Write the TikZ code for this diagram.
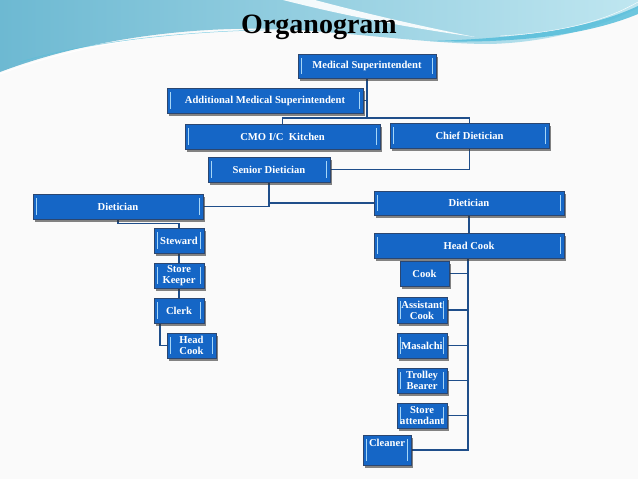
\documentclass[tikz,border=0pt]{standalone}
\usepackage{fontspec}
\setmainfont{Liberation Serif}
\usetikzlibrary{shadows}
\definecolor{boxfill}{HTML}{1566C6}
\definecolor{boxedge}{HTML}{2B4670}
\definecolor{barcol}{HTML}{A6D6F7}
\definecolor{linecol}{HTML}{1F4E8A}
\definecolor{wave1}{HTML}{6DB9D2}
\definecolor{wave2}{HTML}{BFE6F0}
\definecolor{wave3}{HTML}{55BDDA}
\pgfdeclarelayer{bgzero}
\pgfdeclarelayer{lines}
\pgfsetlayers{bgzero,lines,main}
\begin{document}
\begin{tikzpicture}[x=1pt,y=-1pt,
  box/.style={draw=boxedge, line width=0.9pt, fill=boxfill, text=white,
    font=\fontsize{10.6}{10.8}\selectfont\bfseries, align=center, inner sep=1pt,
    minimum height=25pt,
    drop shadow={shadow xshift=2.4pt, shadow yshift=-2.6pt, fill=black!80, opacity=0.6}},
  bars/.style={path picture={
    \draw[barcol, line width=1.2pt]
      ([xshift=3.5pt,yshift=-4pt]path picture bounding box.north west) --
      ([xshift=3.5pt,yshift=4pt]path picture bounding box.south west)
      ([xshift=-3.5pt,yshift=-4pt]path picture bounding box.north east) --
      ([xshift=-3.5pt,yshift=4pt]path picture bounding box.south east);}},
  link/.style={draw=linecol, line width=1.8pt}
]
\useasboundingbox (0,0) rectangle (638,479);
\begin{pgfonlayer}{bgzero}
\fill[black!2] (0,0) rectangle (638,479);
% top wave
\shade[left color=wave1, right color=wave2]
  (0,0) -- (0,72) .. controls (90,38) and (200,24) .. (300,30)
  .. controls (380,36) and (440,44) .. (490,44)
  .. controls (560,42) and (610,22) .. (638,8) -- (638,0) -- cycle;
\fill[white, opacity=0.9]
  (283,0) .. controls (330,12) and (390,25) .. (475,37)
  .. controls (400,22) and (345,8) .. (315,0) -- cycle;
\fill[wave3, opacity=0.85]
  (430,41) .. controls (520,44) and (590,34) .. (638,14) -- (638,6)
  .. controls (600,24) and (540,38) .. (430,41) -- cycle;
\draw[white, line width=1pt] (0,74) .. controls (90,40) and (200,26) .. (300,32);
\draw[wave3, line width=0.5pt, opacity=0.7] (20,62) .. controls (100,38) and (220,28) .. (310,30);
\draw[white, line width=0.4pt] (500,36) .. controls (570,32) and (610,18) .. (638,2);
\end{pgfonlayer}

\node[font=\fontsize{28}{30}\selectfont\bfseries] (title) at (319,27) {Organogram};

% boxes
\node[box,bars,minimum width=138pt,minimum height=24pt] (ms) at (367,66) {Medical Superintendent};
\node[box,bars,minimum width=196pt] (ams) at (265,100.5) {Additional Medical Superintendent};
\node[box,bars,minimum width=195pt] (cmo) at (282.5,136.5) {CMO I/C\ \ Kitchen};
\node[box,bars,minimum width=159pt] (chief) at (469.5,135.5) {Chief Dietician};
\node[box,bars,minimum width=122pt] (sd) at (269,169.5) {Senior Dietician};
\node[box,bars,minimum width=170pt] (dl) at (118,206.5) {Dietician};
\node[box,bars,minimum width=190pt,minimum height=24pt] (dr) at (469,203) {Dietician};
\node[box,bars,minimum width=50pt] (stw) at (179,240.5) {Steward};
\node[box,bars,minimum width=50pt] (sk) at (179,275.5) {Store\\Keeper};
\node[box,bars,minimum width=50pt] (clk) at (179,310.5) {Clerk};
\node[box,bars,minimum width=49pt] (hcl) at (191.5,345.5) {Head\\Cook};
\node[box,bars,minimum width=190pt] (hc) at (469,245.5) {Head Cook};
\node[box,minimum width=49pt] (cook) at (424.5,273.5) {Cook};
\node[box,bars,minimum width=50pt,minimum height=26pt] (ac) at (422,310) {Assistant\\Cook};
\node[box,bars,minimum width=50pt] (mas) at (422,345.5) {Masalchi};
\node[box,bars,minimum width=50pt] (tb) at (422,380.5) {Trolley\\Bearer};
\node[box,bars,minimum width=50pt] (sa) at (422,415.5) {Store\\attendant};
\node[box,bars,minimum width=48pt,minimum height=30pt,text height=7pt,text depth=14pt] (cln) at (387,450) {Cleaner};

% connectors (behind boxes)
\coordinate (b1) at (282.5,118);
\coordinate (hcx) at (468,258);
\begin{pgfonlayer}{lines}
\path[link] (ms.south) -- (ms.south |- b1);
\path[link] (ams.east) -- (ams.east -| ms.south);
\path[link] (cmo.north) -- (b1) -| (chief.north);
\path[link] (chief.north) -- (chief.south) |- (sd.east);
\path[link] (sd.south) |- (dl.east);
\path[link] (sd.south) |- (dr.west);
\path[link] (dl.south) -- ++(0,4) -| (stw.north);
\path[link] (stw.south) -- (sk.north);
\path[link] (sk.south) -- (clk.north);
\path[link] ([xshift=-19pt]clk.south) |- (hcl.west);
\path[link] (dr.south) -- (hc.north);
\path[link] (hcx) |- (cln.east);
\path[link] (cook.east) -- (cook.east -| hcx);
\path[link] (ac.east) -- (ac.east -| hcx);
\path[link] (mas.east) -- (mas.east -| hcx);
\path[link] (tb.east) -- (tb.east -| hcx);
\path[link] (sa.east) -- (sa.east -| hcx);
\end{pgfonlayer}
\end{tikzpicture}
\end{document}
